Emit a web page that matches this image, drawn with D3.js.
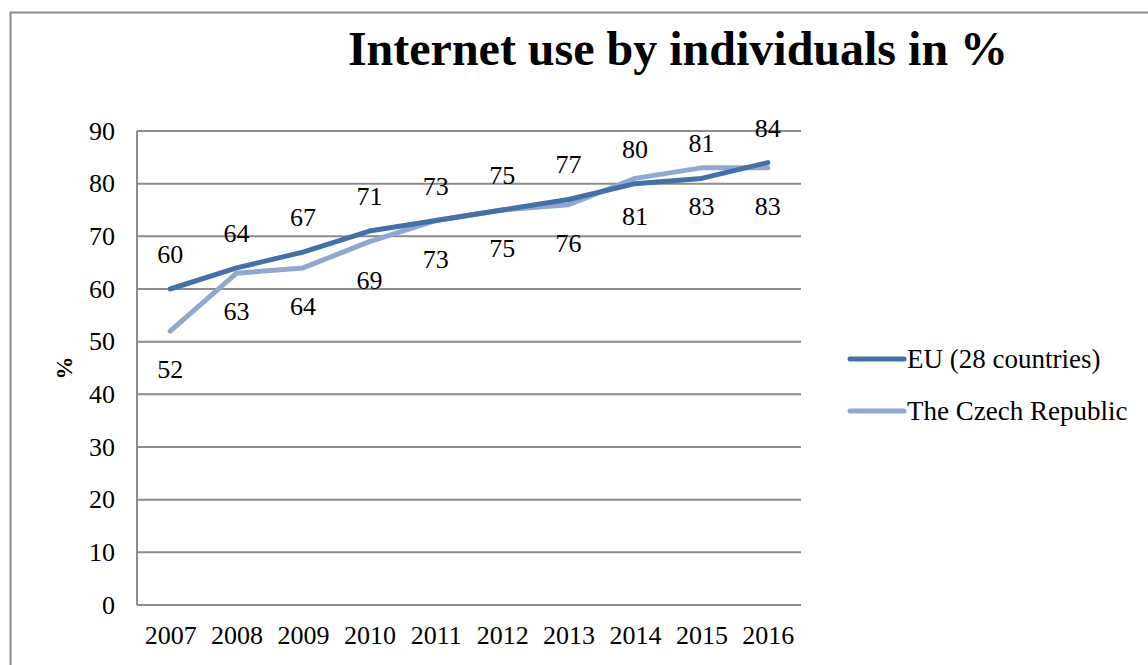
<!DOCTYPE html>
<html>
<head>
<meta charset="utf-8">
<script src="https://cdn.jsdelivr.net/npm/d3@7/dist/d3.min.js"></script>
<style>
  html, body { margin: 0; padding: 0; background: #fff; }
  svg { display: block; }
  svg text { font-family: "Liberation Serif", "Times New Roman", serif; fill: #000; }
</style>
</head>
<body>
<svg id="chart" width="1148" height="665"></svg>
<script>
// Internet use by individuals (% of population), 2007–2016
const years = ["2007", "2008", "2009", "2010", "2011", "2012", "2013", "2014", "2015", "2016"];
const euValues = [60, 64, 67, 71, 73, 75, 77, 80, 81, 84];
const czValues = [52, 63, 64, 69, 73, 75, 76, 81, 83, 83];
const seriesNames = ["EU (28 countries)", "The Czech Republic"];
const yTicks = [0, 10, 20, 30, 40, 50, 60, 70, 80, 90];

const svg = d3.select("#chart");
const W = 1148, H = 665;
const plot = { left: 137, right: 801, top: 131, bottom: 605 };
const FS = 26;

// outer frame
svg.append("path")
  .attr("d", `M10.5,${H} V12.5 H${W}`)
  .attr("fill", "none").attr("stroke", "#8c8c8c").attr("stroke-width", 2);

const x = d3.scalePoint().domain(years).range([plot.left, plot.right]).padding(0.5);
const y = d3.scaleLinear().domain([0, 90]).range([plot.bottom, plot.top]);

// gridlines
svg.append("g")
  .selectAll("line").data(yTicks).join("line")
  .attr("x1", plot.left).attr("x2", plot.right)
  .attr("y1", d => y(d)).attr("y2", d => y(d))
  .attr("stroke", "#8c8c8c").attr("stroke-width", 2);

// y axis line
svg.append("line")
  .attr("x1", plot.left).attr("x2", plot.left)
  .attr("y1", plot.top).attr("y2", plot.bottom)
  .attr("stroke", "#8c8c8c").attr("stroke-width", 2);

// y axis labels
const yAxis = d3.axisLeft(y).tickValues(yTicks).tickSize(0).tickPadding(22);
const gy = svg.append("g").attr("transform", `translate(${plot.left},0)`).call(yAxis);
gy.select(".domain").remove();
gy.attr("font-family", null).attr("font-size", null);
gy.selectAll("text").attr("font-size", FS);

// x axis labels
const xAxis = d3.axisBottom(x).tickSize(0).tickPadding(21);
const gx = svg.append("g").attr("transform", `translate(0,${plot.bottom})`).call(xAxis);
gx.select(".domain").remove();
gx.attr("font-family", null).attr("font-size", null);
gx.selectAll("text").attr("font-size", FS);

// y axis title
svg.append("text")
  .attr("transform", "translate(72,368) rotate(-90)")
  .attr("text-anchor", "middle")
  .attr("font-size", 23).attr("font-weight", "bold")
  .text("%");

// title
svg.append("text")
  .attr("x", 678).attr("y", 65)
  .attr("text-anchor", "middle")
  .attr("font-size", 48).attr("font-weight", "bold")
  .text("Internet use by individuals in %");

const colors = ["#4470a8", "#90a8d0"];
const line = d3.line().x((d, i) => x(years[i])).y(d => y(d));

// Czech line drawn first, EU on top
[[czValues, colors[1]], [euValues, colors[0]]].forEach(([vals, c]) => {
  svg.append("path").datum(vals)
    .attr("d", line)
    .attr("fill", "none").attr("stroke", c)
    .attr("stroke-width", 5).attr("stroke-linecap", "round").attr("stroke-linejoin", "round");
});

// value labels: EU above, Czech below
svg.append("g").selectAll("text").data(euValues).join("text")
  .attr("x", (d, i) => x(years[i])).attr("y", d => y(d) - 26)
  .attr("text-anchor", "middle").attr("font-size", FS)
  .text(d => d);
svg.append("g").selectAll("text").data(czValues).join("text")
  .attr("x", (d, i) => x(years[i])).attr("y", d => y(d) + 47)
  .attr("text-anchor", "middle").attr("font-size", FS)
  .text(d => d);

// legend
const legend = svg.append("g");
seriesNames.forEach((name, i) => {
  const ly = 359 + i * 52;
  legend.append("line")
    .attr("x1", 850).attr("x2", 904).attr("y1", ly).attr("y2", ly)
    .attr("stroke", colors[i]).attr("stroke-width", 5).attr("stroke-linecap", "round");
  legend.append("text")
    .attr("x", 907).attr("y", ly + 9)
    .attr("font-size", 27)
    .text(name);
});
</script>
</body>
</html>
